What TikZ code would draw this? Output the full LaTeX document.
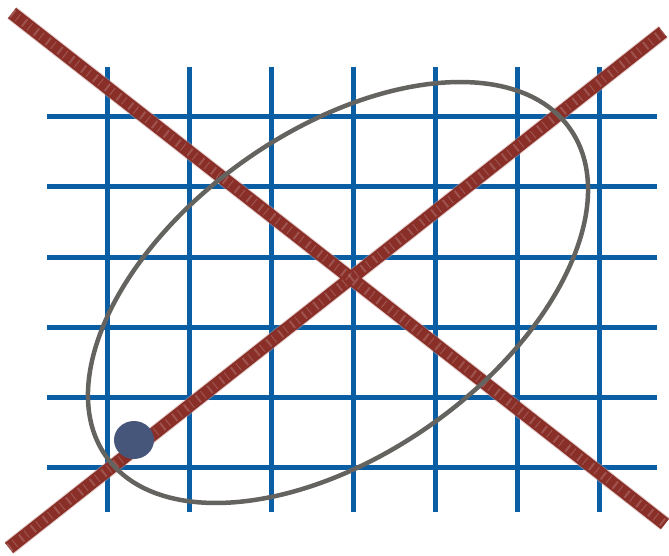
\documentclass[tikz,border=0pt]{standalone}
\definecolor{gridblue}{RGB}{10,94,164}
\definecolor{crossred}{RGB}{138,46,40}
\definecolor{ellgray}{RGB}{100,99,95}
\definecolor{dotblue}{RGB}{70,85,122}
\tikzset{
  gridline/.style={draw=gridblue, line width=5pt},
  crossline/.style={draw=crossred, line width=13pt},
  crosshalo/.style={draw=crossred!50!white, line width=15pt, opacity=0.5},
  crosstex/.style={draw=white, line width=9pt, opacity=0.18, dash pattern=on 2pt off 5pt on 1pt off 7pt},
  ellline/.style={draw=ellgray, line width=4.5pt},
}
\begin{document}
\begin{tikzpicture}[x=1pt,y=-1pt]
\useasboundingbox (0,0) rectangle (669,556);
% grid
\foreach \x in {107,189,271,353,435,517,599}
  \draw[gridline] (\x,67) -- (\x,512);
\foreach \y in {117,187,257,327,397,467}
  \draw[gridline] (47,\y) -- (657,\y);
% crossing lines
\coordinate (a1) at (12,13);
\coordinate (a2) at (665,524);
\coordinate (b1) at (9,548);
\coordinate (b2) at (663,32);
\draw[crosshalo] (a1) -- (a2);
\draw[crosshalo] (b1) -- (b2);
\draw[crossline] (a1) -- (a2);
\draw[crossline] (b1) -- (b2);
\draw[crosstex] (a1) -- (a2);
\draw[crosstex] (b1) -- (b2);
% ellipse
\draw[ellline, rotate around={35.25:(338,292.5)}] (338,292.5) ellipse [x radius=284, y radius=161.7];
% dot
\fill[dotblue] (134,440) ellipse [x radius=20, y radius=19];
\end{tikzpicture}
\end{document}
